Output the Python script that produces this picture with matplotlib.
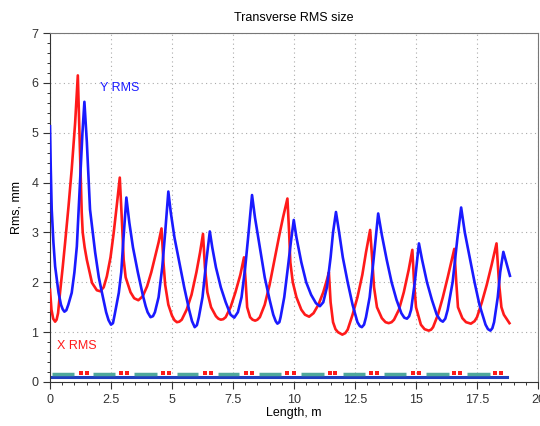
import numpy as np
import matplotlib
matplotlib.use("Agg")
import matplotlib.pyplot as plt

plt.rcParams['font.family'] = ['Liberation Sans', 'DejaVu Sans']

# -----------------------------
# Data
# -----------------------------
# X RMS (red)
x_s = [0.00, 0.06, 0.13, 0.21, 0.27, 0.33, 0.41, 0.52, 0.62, 0.76, 0.89, 1.03, 1.14,
       1.24, 1.30, 1.34, 1.42, 1.51, 1.72, 1.92, 2.06, 2.20, 2.33, 2.48,
       2.61, 2.75, 2.86, 2.95, 3.02, 3.10, 3.30, 3.45, 3.62, 3.80, 3.98,
       4.15, 4.30, 4.45, 4.57, 4.65, 4.72, 4.85, 5.00, 5.10, 5.20, 5.30, 5.40, 5.60,
       5.80, 6.00, 6.15, 6.27, 6.35, 6.45, 6.60, 6.80, 6.90, 7.00, 7.10, 7.20, 7.40,
       7.60, 7.80, 7.95, 8.02, 8.08, 8.20, 8.30, 8.41, 8.50, 8.60, 8.80, 9.00, 9.20,
       9.40, 9.55, 9.73, 9.80, 9.85, 9.95, 10.10, 10.30, 10.45, 10.62, 10.80,
       11.00, 11.20, 11.35, 11.43, 11.50, 11.60, 11.70, 11.80, 11.98, 12.10, 12.20,
       12.40, 12.60, 12.80, 12.95, 13.12, 13.20, 13.28, 13.40, 13.60, 13.75,
       13.88, 14.00, 14.10, 14.30, 14.50, 14.70, 14.85, 14.92, 15.00, 15.20, 15.35,
       15.52, 15.62, 15.70, 15.90, 16.10, 16.30, 16.57, 16.65, 16.72, 16.90, 17.05,
       17.25, 17.40, 17.50, 17.70, 17.90, 18.10, 18.30, 18.40, 18.50, 18.60, 18.83]
x_rms = [1.85, 1.45, 1.27, 1.21, 1.25, 1.38, 1.79, 2.30, 2.80, 3.53, 4.27, 5.20, 6.15,
         4.47, 3.40, 3.00, 2.70, 2.45, 1.99, 1.84, 1.82, 1.90, 2.12, 2.50,
         2.99, 3.60, 4.10, 3.20, 2.45, 2.10, 1.80, 1.68, 1.64, 1.72, 1.92,
         2.20, 2.50, 2.80, 3.08, 2.40, 1.95, 1.55, 1.33, 1.24, 1.20, 1.21, 1.25, 1.45,
         1.75, 2.20, 2.60, 2.97, 2.30, 1.80, 1.50, 1.32, 1.27, 1.25, 1.26, 1.30, 1.50,
         1.80, 2.15, 2.50, 2.00, 1.50, 1.30, 1.25, 1.23, 1.25, 1.30, 1.55, 1.95, 2.45,
         2.95, 3.30, 3.68, 3.00, 2.40, 2.00, 1.70, 1.45, 1.35, 1.31, 1.38,
         1.55, 1.80, 2.05, 2.20, 1.60, 1.20, 1.06, 1.00, 0.95, 0.98, 1.05,
         1.35, 1.70, 2.15, 2.60, 3.05, 2.50, 1.90, 1.50, 1.28, 1.20,
         1.18, 1.20, 1.25, 1.45, 1.80, 2.25, 2.65, 2.00, 1.50, 1.15, 1.06,
         1.03, 1.05, 1.10, 1.35, 1.70, 2.10, 2.67, 2.00, 1.50, 1.28, 1.20,
         1.17, 1.22, 1.30, 1.60, 1.95, 2.35, 2.78, 2.00, 1.50, 1.35, 1.18]

# Y RMS (blue)
y_s = [0.00, 0.03, 0.07, 0.14, 0.21, 0.35, 0.45, 0.52, 0.59, 0.67, 0.75, 0.89, 1.00,
       1.10, 1.24, 1.33, 1.41, 1.51, 1.64, 1.85, 2.00, 2.13, 2.30, 2.40, 2.50, 2.58,
       2.65, 2.82, 2.92, 3.00, 3.13, 3.25, 3.40, 3.60, 3.80, 3.92, 4.00, 4.12, 4.22,
       4.30, 4.45, 4.60, 4.72, 4.85, 4.95, 5.10, 5.30, 5.50, 5.70, 5.82, 5.93, 6.02,
       6.10, 6.25, 6.40, 6.55, 6.65, 6.80, 7.00, 7.20, 7.40, 7.55, 7.70,
       7.85, 8.00, 8.12, 8.28, 8.40, 8.60, 8.80, 9.00, 9.15, 9.25, 9.32, 9.40, 9.45,
       9.60, 9.75, 9.87, 9.99, 10.10, 10.30, 10.50, 10.70, 10.90, 11.06,
       11.20, 11.35, 11.50, 11.60, 11.72, 11.85, 12.00, 12.20, 12.40,
       12.60, 12.70, 12.78, 12.87, 12.95, 13.10, 13.25, 13.45, 13.60, 13.80, 14.00,
       14.20, 14.40, 14.52, 14.63, 14.72, 14.80, 14.95, 15.12, 15.25, 15.45, 15.65,
       15.85, 16.00, 16.10, 16.20, 16.30, 16.50, 16.70, 16.85, 17.00, 17.20, 17.40,
       17.60, 17.85, 17.95, 18.05, 18.13, 18.20, 18.35, 18.45, 18.58, 18.70, 18.85]
y_rms = [5.13, 4.30, 3.46, 2.80, 2.32, 1.79, 1.55, 1.46, 1.41, 1.44, 1.55, 1.79, 2.20,
         2.72, 4.13, 5.00, 5.62, 4.81, 3.46, 2.60, 2.10, 1.79, 1.40, 1.24, 1.15, 1.18,
         1.35, 1.79, 2.20, 2.80, 3.70, 3.20, 2.70, 2.20, 1.75, 1.52, 1.40, 1.30, 1.32,
         1.40, 1.70, 2.30, 3.00, 3.82, 3.40, 2.90, 2.40, 1.90, 1.45, 1.22, 1.10, 1.14,
         1.30, 1.70, 2.40, 3.02, 2.70, 2.30, 1.90, 1.60, 1.35, 1.29, 1.40,
         1.70, 2.30, 2.90, 3.75, 3.30, 2.70, 2.10, 1.65, 1.35, 1.22, 1.17, 1.20, 1.30,
         1.70, 2.30, 2.80, 3.25, 2.90, 2.40, 2.00, 1.75, 1.58, 1.52,
         1.60, 1.90, 2.50, 3.00, 3.41, 3.00, 2.50, 2.00, 1.55,
         1.20, 1.12, 1.10, 1.15, 1.30, 1.70, 2.40, 3.38, 2.95, 2.45, 2.00,
         1.65, 1.38, 1.29, 1.27, 1.32, 1.45, 2.00, 2.78, 2.45, 2.00, 1.65,
         1.35, 1.24, 1.21, 1.27, 1.45, 2.00, 2.90, 3.50, 3.00, 2.50, 2.00,
         1.55, 1.15, 1.06, 1.03, 1.08, 1.20, 1.70, 2.20, 2.61, 2.40, 2.13]

# lattice sketch along the bottom
beamline_end = 18.72
drift_start = [0.10, 1.78, 3.43, 5.20, 6.88, 8.57, 10.28, 11.99, 13.70, 15.42, 17.11]
drift_end = [1.00, 2.65, 4.37, 6.07, 7.76, 9.45, 11.23, 12.92, 14.61, 16.36, 18.03]
quad_pos = [1.27, 1.51, 2.91, 3.16, 4.62, 4.87, 6.35, 6.60, 8.04, 8.29,
            9.73, 10.00, 11.47, 11.68, 13.16, 13.40, 14.87, 15.12,
            16.55, 16.80, 18.25, 18.50]

# -----------------------------
# Plot
# -----------------------------
fig = plt.figure(figsize=(5.40, 4.26), dpi=100)
ax = fig.add_axes([0.0926, 0.1033, 0.9037, 0.8192])

ax.plot(x_s, x_rms, color="#ff1a1a", lw=1.9, zorder=3)
ax.plot(y_s, y_rms, color="#1a1aff", lw=1.9, zorder=3)

ax.plot([0, beamline_end], [0.11, 0.11], color="#1f3fbf", lw=2.2, zorder=2)
for a, b in zip(drift_start, drift_end):
    ax.plot([a, b], [0.17, 0.17], color="#4fa89c", lw=2.5, solid_capstyle="butt", zorder=2)
ax.plot(quad_pos, [0.19] * len(quad_pos), ls="none", marker="s", ms=2.2,
        mew=0, color="#ff1a1a", zorder=3)

ax.text(2.05, 5.9, "Y RMS", color="#1a1aff", fontsize=9, va="center")
ax.text(0.3, 0.72, "X RMS", color="#ff1a1a", fontsize=9, va="center")

ax.set_xlim(0, 20)
ax.set_ylim(0, 7)
ax.set_xticks(np.arange(0, 20.1, 2.5))
ax.set_xticklabels(["0", "2.5", "5", "7.5", "10", "12.5", "15", "17.5", "20"])
ax.set_xticks(np.arange(0, 20.01, 0.5), minor=True)
ax.set_yticks(np.arange(0, 8, 1))
ax.set_yticks(np.arange(0, 7.01, 0.2), minor=True)
ax.tick_params(which="major", direction="out", length=5, width=0.8,
               labelsize=9, colors="#333333")
ax.tick_params(which="minor", direction="out", length=2.5, width=0.7, colors="#333333")
ax.grid(True, which="major", color="#aaaaaa", ls=(0, (1, 3)), lw=0.8)

for side in ["top", "right"]:
    ax.spines[side].set_color("#777777")
for side in ["left", "bottom"]:
    ax.spines[side].set_color("#333333")

ax.set_title("Transverse RMS size", fontsize=9, pad=9)
ax.set_xlabel("Length, m", fontsize=9, labelpad=1)
ax.set_ylabel("Rms, mm", fontsize=9, labelpad=6)

fig.savefig("out.png", dpi=100)
